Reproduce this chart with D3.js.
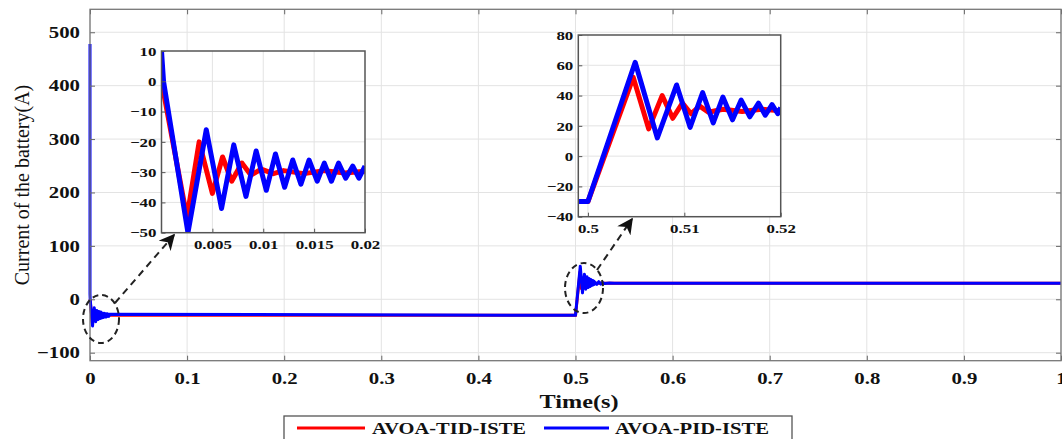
<!doctype html>
<html>
<head>
<meta charset="utf-8">
<script src="https://cdn.jsdelivr.net/npm/d3@7"></script>
<style>
html,body{margin:0;background:#fff;overflow:hidden;}
text{font-family:"Liberation Serif","Times New Roman",serif;font-weight:bold;fill:#111;}
.sx text{transform-box:fill-box;transform-origin:center;transform:scaleX(1.3);}
.sxr text{transform-box:fill-box;transform-origin:right center;transform:scaleX(1.3);}
</style>
</head>
<body>
<script>
// ---- data (time in s, current in A) ----
var mainXTicks = [0,0.1,0.2,0.3,0.4,0.5,0.6,0.7,0.8,0.9,1];
var mainYTicks = [-100,0,100,200,300,400,500];
var inset1XTicks = [0.005,0.01,0.015,0.02];
var inset1YTicks = [10,0,-10,-20,-30,-40,-50];
var inset2XTicks = [0.5,0.51,0.52];
var inset2YTicks = [80,60,40,20,0,-20,-40];
var seriesNames = ["AVOA-TID-ISTE","AVOA-PID-ISTE"];

// start-up transient (inset 1)
var tidStart = [[0,0],[0.0025,-45],[0.0037,-20],[0.005,-37],[0.006,-25],[0.0069,-33],[0.0079,-27],
  [0.0088,-31],[0.0098,-29],[0.011,-30.5],[0.012,-29.5],[0.014,-30.5],[0.016,-29.5],[0.018,-30.3],[0.02,-29.7]];
var pidStart = [[0,10],[0.0002,0],[0.0026,-50],[0.0044,-16],[0.0059,-42],[0.0071,-21],[0.0083,-38],
  [0.0093,-23],[0.0103,-36],[0.0112,-24],[0.0121,-35],[0.0129,-26],[0.0137,-34],[0.0145,-26],
  [0.0153,-33],[0.016,-27],[0.0167,-33],[0.0174,-27],[0.0181,-32],[0.0188,-28],[0.0194,-32],[0.02,-28]];
// load step at 0.5 s (inset 2)
var tidStep = [[0.499,-30],[0.5,-30],[0.5047,52],[0.5063,18],[0.5077,40],[0.5088,25],[0.5098,35],
  [0.5107,28],[0.5116,33],[0.5125,29],[0.514,31],[0.516,29.5],[0.518,31],[0.52,30]];
var pidStep = [[0.499,-30],[0.5,-30],[0.5049,62],[0.5072,12],[0.5092,47],[0.5106,19],[0.5119,42],
  [0.513,22],[0.514,39],[0.515,24],[0.5159,37],[0.5168,26],[0.5177,35],[0.5184,27],[0.5191,34],
  [0.5197,28],[0.52,32]];
var pidTail = [[0.522,28],[0.524,33],[0.526,28.5],[0.528,31.5],[0.53,29.5],[0.535,30.5],[0.54,30],[1,30]];
var tidTail = [[0.53,30],[1,30]];
var pidSpike = [[0,478]];

var tidMain = tidStart.concat([[0.5,-30]], tidStep, tidTail);
var pidMain = pidSpike.concat(pidStart, [[0.5,-30]], pidStep, pidTail);

var colors = {tid:"#ff0000", pid:"#0000ff"};

var W = 1062, H = 439;
var svg = d3.select("body").append("svg").attr("width", W).attr("height", H);

var defs = svg.append("defs");
defs.append("marker").attr("id","arr").attr("viewBox","0 0 10 10").attr("refX",9).attr("refY",5)
  .attr("markerWidth",7).attr("markerHeight",7).attr("orient","auto").attr("markerUnits","userSpaceOnUse")
  .append("path").attr("d","M0,0 L10,5 L0,10 L3,5 Z").attr("fill","#111");
d3.select("#arr").attr("markerWidth",16).attr("markerHeight",16);

// ---- main axes ----
var x = d3.scaleLinear().domain([0,1]).range([90,1061]);
var y = d3.scaleLinear().domain([-115,543]).range([360.7,9.3]);

var grid = svg.append("g");
grid.selectAll(".gx").data(mainXTicks).enter().append("line")
  .attr("x1", d => x(d)).attr("x2", d => x(d)).attr("y1", y.range()[1]).attr("y2", y.range()[0])
  .attr("stroke","#e3e3e3").attr("stroke-width",1);
grid.selectAll(".gy").data(mainYTicks).enter().append("line")
  .attr("x1", x.range()[0]).attr("x2", x.range()[1]).attr("y1", d => y(d)).attr("y2", d => y(d))
  .attr("stroke","#e3e3e3").attr("stroke-width",1);

var line = d3.line().x(d => x(d[0])).y(d => y(d[1]));
svg.append("path").datum(tidMain).attr("d", line).attr("fill","none")
  .attr("stroke", colors.tid).attr("stroke-width",3);
svg.append("path").datum(pidMain).attr("d", line).attr("fill","none")
  .attr("stroke", colors.pid).attr("stroke-width",3).attr("stroke-linejoin","round");

function fmtMain(d){ return (d===0||d===1) ? String(d) : d3.format(".1f")(d); }
var gb = svg.append("g").attr("class","sx").attr("transform","translate(0,"+y.range()[0]+")")
  .call(d3.axisBottom(x).tickValues(mainXTicks).tickFormat(fmtMain).tickSize(-5).tickPadding(12));
var gl = svg.append("g").attr("class","sxr").attr("transform","translate("+x.range()[0]+",0)")
  .call(d3.axisLeft(y).tickValues(mainYTicks).tickSize(-5).tickPadding(10));
var gt = svg.append("g").attr("transform","translate(0,"+y.range()[1]+")")
  .call(d3.axisTop(x).tickValues(mainXTicks).tickFormat("").tickSize(-5));
var gr = svg.append("g").attr("transform","translate("+x.range()[1]+",0)")
  .call(d3.axisRight(y).tickValues(mainYTicks).tickFormat("").tickSize(-5));
[gb,gl,gt,gr].forEach(function(g){
  g.select(".domain").remove();
  g.selectAll(".tick line").attr("stroke","#666");
  g.selectAll("text").style("font-size","16px").style("fill","#111");
});
svg.append("rect").attr("x",x.range()[0]).attr("y",y.range()[1])
  .attr("width",x.range()[1]-x.range()[0]).attr("height",y.range()[0]-y.range()[1])
  .attr("fill","none").attr("stroke","#777").attr("stroke-width",1.3);

// axis titles
svg.append("text").attr("x",579).attr("y",401).attr("dy","0.35em").attr("text-anchor","middle")
  .attr("textLength",79).attr("lengthAdjust","spacingAndGlyphs")
  .style("font-size","19px").text("Time(s)");
svg.append("text").attr("transform","translate(22,185) rotate(-90)").attr("text-anchor","middle")
  .attr("dy","0.35em").style("font-size","20px").style("font-weight","normal").text("Current of the battery(A)");

// ---- callouts ----
svg.append("ellipse").attr("cx",101).attr("cy",319).attr("rx",18).attr("ry",24)
  .attr("fill","none").attr("stroke","#222").attr("stroke-width",2).attr("stroke-dasharray","6,4");
svg.append("ellipse").attr("cx",584).attr("cy",288).attr("rx",19).attr("ry",25)
  .attr("fill","none").attr("stroke","#222").attr("stroke-width",2).attr("stroke-dasharray","6,4");
svg.append("line").attr("x1",115).attr("y1",303).attr("x2",174).attr("y2",235)
  .attr("stroke","#222").attr("stroke-width",2).attr("stroke-dasharray","7,5").attr("marker-end","url(#arr)");
svg.append("line").attr("x1",597).attr("y1",270).attr("x2",632).attr("y2",219)
  .attr("stroke","#222").attr("stroke-width",2).attr("stroke-dasharray","7,5").attr("marker-end","url(#arr)");

// ---- insets ----
function inset(id, xd, xr, yd, yr, xt, yt, gxv, gyv, xfmt, tid, pid){
  var ix = d3.scaleLinear().domain(xd).range(xr);
  var iy = d3.scaleLinear().domain(yd).range(yr);
  var g = svg.append("g");
  g.append("rect").attr("x",xr[0]).attr("y",yr[1]).attr("width",xr[1]-xr[0]).attr("height",yr[0]-yr[1])
    .attr("fill","#fff");
  g.selectAll(".vx").data(gxv).enter().append("line")
    .attr("x1", d => ix(d)).attr("x2", d => ix(d)).attr("y1", yr[1]).attr("y2", yr[0])
    .attr("stroke","#e3e3e3");
  g.selectAll(".hy").data(gyv).enter().append("line")
    .attr("x1", xr[0]).attr("x2", xr[1]).attr("y1", d => iy(d)).attr("y2", d => iy(d))
    .attr("stroke","#e3e3e3");
  defs.append("clipPath").attr("id",id).append("rect").attr("x",xr[0]).attr("y",yr[1])
    .attr("width",xr[1]-xr[0]).attr("height",yr[0]-yr[1]);
  var il = d3.line().x(d => ix(d[0])).y(d => iy(d[1]));
  var cg = g.append("g").attr("clip-path","url(#"+id+")");
  cg.append("path").datum(tid).attr("d", il).attr("fill","none").attr("stroke",colors.tid)
    .attr("stroke-width",5).attr("stroke-linejoin","round");
  cg.append("path").datum(pid).attr("d", il).attr("fill","none").attr("stroke",colors.pid)
    .attr("stroke-width",5).attr("stroke-linejoin","round");
  var ab = g.append("g").attr("class","sx").attr("transform","translate(0,"+yr[0]+")")
    .call(d3.axisBottom(ix).tickValues(xt).tickFormat(xfmt).tickSize(-4).tickPadding(7));
  var al = g.append("g").attr("class","sxr").attr("transform","translate("+xr[0]+",0)")
    .call(d3.axisLeft(iy).tickValues(yt).tickSize(-4).tickPadding(5));
  [ab,al].forEach(function(a){
    a.select(".domain").remove();
    a.selectAll(".tick line").attr("stroke","#555");
    a.selectAll("text").style("font-size","13px").style("fill","#111");
  });
  g.append("rect").attr("x",xr[0]).attr("y",yr[1]).attr("width",xr[1]-xr[0]).attr("height",yr[0]-yr[1])
    .attr("fill","none").attr("stroke","#555").attr("stroke-width",1.5);
}

inset("c1",[0,0.02],[161.5,365],[-50,10],[232.7,51],inset1XTicks,inset1YTicks,
  [0.005,0.01,0.015],[0,-10,-20,-30,-40], d => String(d), tidStart, pidStart);
inset("c2",[0.499,0.52],[578.3,780.7],[-40,80],[216.7,35],inset2XTicks,inset2YTicks,
  [0.5,0.51],[60,40,20,0,-20], d => String(d), tidStep, pidStep);

// ---- legend ----
var lg = svg.append("g");
lg.append("rect").attr("x",284).attr("y",416).attr("width",508).attr("height",30)
  .attr("fill","#fff").attr("stroke","#555").attr("stroke-width",1.3);
var items = [{name:seriesNames[0], c:colors.tid, x1:297, x2:365, tx:372},
             {name:seriesNames[1], c:colors.pid, x1:544, x2:609, tx:615}];
items.forEach(function(it){
  lg.append("line").attr("x1",it.x1).attr("x2",it.x2).attr("y1",428).attr("y2",428)
    .attr("stroke",it.c).attr("stroke-width",3);
  lg.append("text").attr("x",it.tx).attr("y",428).attr("dy","0.35em")
    .attr("textLength",154).attr("lengthAdjust","spacingAndGlyphs")
    .style("font-size","16.5px").text(it.name);
});
</script>
</body>
</html>
